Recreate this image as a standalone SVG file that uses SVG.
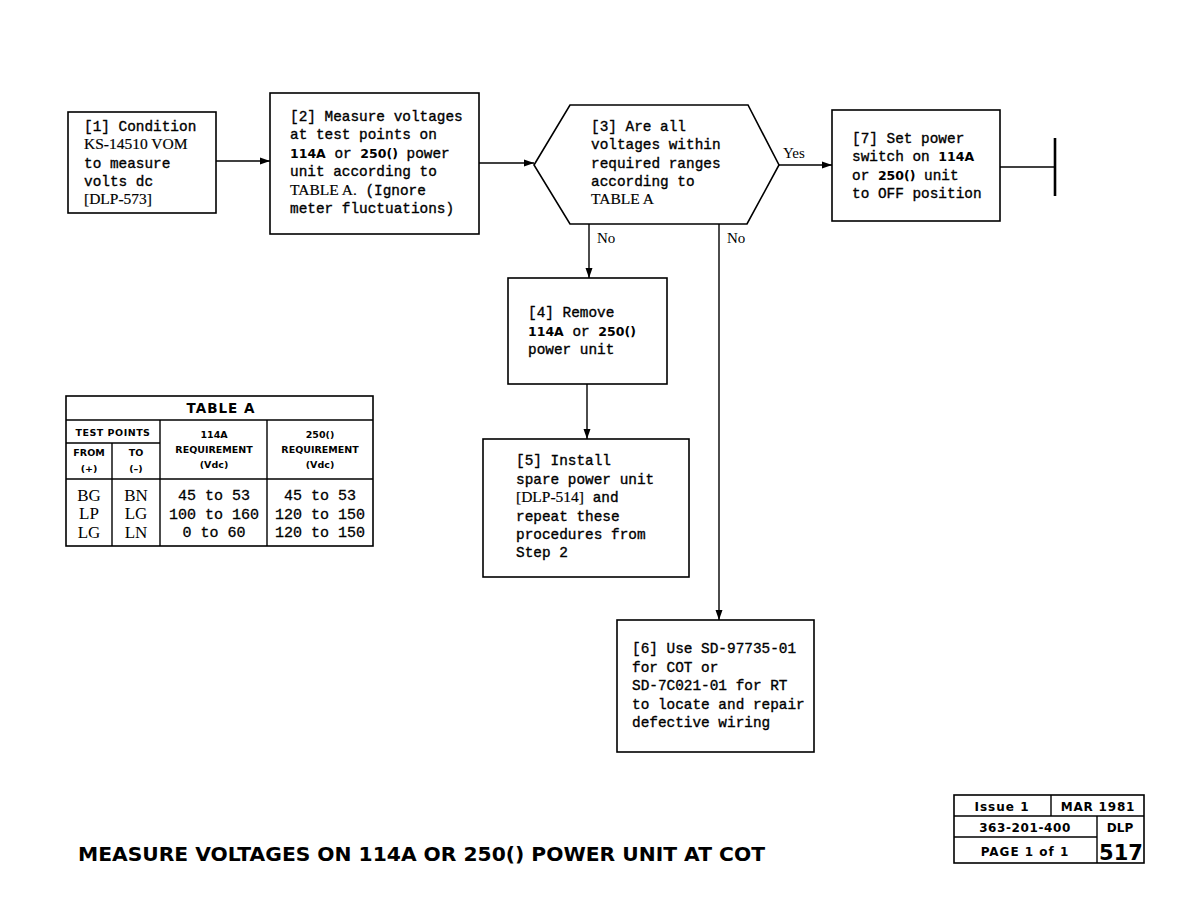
<svg xmlns="http://www.w3.org/2000/svg" width="1188" height="918" viewBox="0 0 1188 918">
<defs>
<marker id="arr" viewBox="0 0 10 10" refX="10" refY="5" markerWidth="10" markerHeight="10" markerUnits="userSpaceOnUse" orient="auto">
<path d="M0,1.5 L10,5 L0,8.5 Z" fill="#000"/>
</marker>
<style>
.box{fill:#fff;stroke:#000;stroke-width:1.6}
.ln{fill:none;stroke:#000;stroke-width:1.4}
.t{font-family:"Liberation Mono",monospace;font-size:14.4px;fill:#000;stroke:#000;stroke-width:0.35}
.b{font-family:"DejaVu Sans",sans-serif;font-weight:bold;font-size:12.5px;stroke-width:0}
.s{font-family:"Liberation Serif",serif;stroke-width:0.2}
.lbl{font-family:"Liberation Serif",serif;font-size:15px;fill:#000}
.th{font-family:"DejaVu Sans",sans-serif;font-weight:bold;font-size:9.5px;fill:#000;text-anchor:middle}
.big{font-size:13.5px;letter-spacing:1px}
.td{font-family:"Liberation Mono",monospace;font-size:15px;fill:#000;text-anchor:middle;stroke:#000;stroke-width:0.3}
.ts{font-family:"Liberation Serif",serif;font-size:17px;fill:#000;text-anchor:middle}
.tb{font-family:"DejaVu Sans",sans-serif;font-weight:bold;fill:#000}
</style>
</defs>
<rect width="1188" height="918" fill="#fff"/>

<g id="connectors">
<line class="ln" x1="216" y1="161" x2="270" y2="161" marker-end="url(#arr)"/>
<line class="ln" x1="479" y1="163" x2="534" y2="163" marker-end="url(#arr)"/>
<line class="ln" x1="779" y1="165" x2="832" y2="165" marker-end="url(#arr)"/>
<text class="lbl" x="783" y="158">Yes</text>
<line class="ln" x1="589" y1="224" x2="589" y2="278" marker-end="url(#arr)"/>
<text class="lbl" x="597" y="243">No</text>
<line class="ln" x1="719" y1="224" x2="719" y2="620" marker-end="url(#arr)"/>
<text class="lbl" x="727" y="243">No</text>
<line class="ln" x1="587" y1="384" x2="587" y2="439" marker-end="url(#arr)"/>
<line class="ln" x1="1000" y1="167" x2="1055" y2="167"/>
<line x1="1055" y1="138" x2="1055" y2="196" stroke="#000" stroke-width="2.6"/>
</g>

<g id="n1">
<rect class="box" x="68" y="112" width="148" height="101"/>
<text class="t" x="84"><tspan x="84" y="131">[1] Condition</tspan><tspan x="84" y="149" class="s" font-size="15.5">KS-14510 VOM</tspan><tspan x="84" y="168">to measure</tspan><tspan x="84" y="186">volts dc</tspan><tspan x="84" y="204" class="s" font-size="15.5">[DLP-573]</tspan></text>
</g>

<g id="n2">
<rect class="box" x="270" y="93" width="209" height="141"/>
<text class="t"><tspan x="290" y="121">[2] Measure voltages</tspan><tspan x="290" y="139">at test points on</tspan><tspan x="290" y="158"><tspan class="b">114A</tspan> or <tspan class="b">250()</tspan> power</tspan><tspan x="290" y="176">unit according to</tspan><tspan x="290" y="195"><tspan class="s" font-size="15.5">TABLE A.</tspan> (Ignore</tspan><tspan x="290" y="213">meter fluctuations)</tspan></text>
</g>

<g id="n3">
<polygon class="box" points="534,165 570,105 748,105 779,165 747,224 570,224"/>
<text class="t"><tspan x="591" y="131">[3] Are all</tspan><tspan x="591" y="149">voltages within</tspan><tspan x="591" y="168">required ranges</tspan><tspan x="591" y="186">according to</tspan><tspan x="591" y="204" class="s" font-size="15.5">TABLE A</tspan></text>
</g>

<g id="n7">
<rect class="box" x="832" y="110" width="168" height="111"/>
<text class="t"><tspan x="852" y="143">[7] Set power</tspan><tspan x="852" y="161">switch on <tspan class="b">114A</tspan></tspan><tspan x="852" y="180">or <tspan class="b">250()</tspan> unit</tspan><tspan x="852" y="198">to OFF position</tspan></text>
</g>

<g id="n4">
<rect class="box" x="508" y="278" width="159" height="106"/>
<text class="t"><tspan x="528" y="317">[4] Remove</tspan><tspan x="528" y="336"><tspan class="b">114A</tspan> or <tspan class="b">250()</tspan></tspan><tspan x="528" y="354">power unit</tspan></text>
</g>

<g id="n5">
<rect class="box" x="483" y="439" width="206" height="138"/>
<text class="t"><tspan x="516" y="465">[5] Install</tspan><tspan x="516" y="484">spare power unit</tspan><tspan x="516" y="502"><tspan class="s" font-size="15.5">[DLP-514]</tspan> and</tspan><tspan x="516" y="521">repeat these</tspan><tspan x="516" y="539">procedures from</tspan><tspan x="516" y="557">Step 2</tspan></text>
</g>

<g id="n6">
<rect class="box" x="617" y="620" width="197" height="132"/>
<text class="t"><tspan x="632" y="653">[6] Use SD-97735-01</tspan><tspan x="632" y="672">for COT or</tspan><tspan x="632" y="690">SD-7C021-01 for RT</tspan><tspan x="632" y="709">to locate and repair</tspan><tspan x="632" y="727">defective wiring</tspan></text>
</g>

<g id="tableA">
<rect class="box" x="66" y="396" width="307" height="150"/>
<line class="ln" x1="66" y1="420" x2="373" y2="420"/>
<line class="ln" x1="66" y1="443" x2="160" y2="443"/>
<line class="ln" x1="66" y1="479" x2="373" y2="479"/>
<line class="ln" x1="112" y1="443" x2="112" y2="546"/>
<line class="ln" x1="160" y1="420" x2="160" y2="546"/>
<line class="ln" x1="267" y1="420" x2="267" y2="546"/>
<text class="th big" x="221" y="413">TABLE A</text>
<text class="th" x="113" y="436" letter-spacing="0.5">TEST POINTS</text>
<text class="th" x="89" y="456">FROM</text>
<text class="th" x="136" y="456">TO</text>
<text class="th" x="89" y="472">(+)</text>
<text class="th" x="136" y="472">(–)</text>
<text class="th" x="214" y="438">114A</text>
<text class="th" x="214" y="453">REQUIREMENT</text>
<text class="th" x="214" y="468">(Vdc)</text>
<text class="th" x="320" y="438">250()</text>
<text class="th" x="320" y="453">REQUIREMENT</text>
<text class="th" x="320" y="468">(Vdc)</text>
<text class="ts" x="89" y="501">BG</text>
<text class="ts" x="89" y="519">LP</text>
<text class="ts" x="89" y="538">LG</text>
<text class="ts" x="136" y="501">BN</text>
<text class="ts" x="136" y="519">LG</text>
<text class="ts" x="136" y="538">LN</text>
<text class="td" x="214" y="500">45 to 53</text>
<text class="td" x="214" y="519">100 to 160</text>
<text class="td" x="214" y="537">0 to 60</text>
<text class="td" x="320" y="500">45 to 53</text>
<text class="td" x="320" y="519">120 to 150</text>
<text class="td" x="320" y="537">120 to 150</text>
</g>

<g id="titleblock">
<rect class="box" x="954" y="795" width="190" height="68"/>
<line class="ln" x1="954" y1="816" x2="1144" y2="816"/>
<line class="ln" x1="954" y1="837" x2="1097" y2="837"/>
<line class="ln" x1="1051" y1="795" x2="1051" y2="816"/>
<line class="ln" x1="1097" y1="816" x2="1097" y2="863"/>
<text class="tb" x="1002" y="811" font-size="12" text-anchor="middle" letter-spacing="1">Issue 1</text>
<text class="tb" x="1098" y="811" font-size="12" text-anchor="middle" letter-spacing="0.8">MAR 1981</text>
<text class="tb" x="1025" y="832" font-size="12" text-anchor="middle" letter-spacing="0.6">363-201-400</text>
<text class="tb" x="1120" y="832" font-size="12" text-anchor="middle">DLP</text>
<text class="tb" x="1025" y="856" font-size="12" text-anchor="middle" letter-spacing="1">PAGE 1 of 1</text>
<text class="tb" x="1121" y="860" font-size="21" text-anchor="middle">517</text>
</g>

<g id="title">
<text class="tb" x="78" y="861" font-size="20" textLength="687" lengthAdjust="spacingAndGlyphs">MEASURE VOLTAGES ON 114A OR 250() POWER UNIT AT COT</text>
</g>
</svg>
